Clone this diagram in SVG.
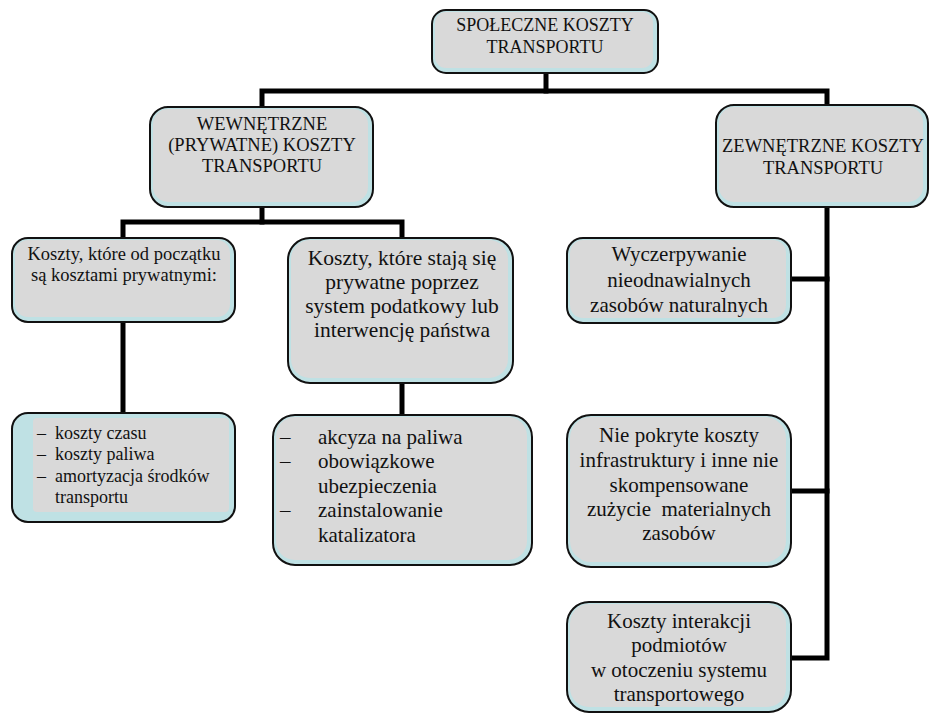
<svg xmlns="http://www.w3.org/2000/svg" width="930" height="715" viewBox="0 0 930 715">
<style>
.o{fill:#bfe1e4;stroke:#111;stroke-width:2}
.i{fill:#d9d9d9}
text{font-family:"Liberation Serif","Times New Roman",serif;fill:#111;text-anchor:middle}
.s18{font-size:18px}
.s185{font-size:18.5px}
.s21{font-size:21px}
.s215{font-size:21.5px}
.l{text-anchor:start}
.c{fill:none;stroke:#000;stroke-width:5;stroke-linecap:square;stroke-linejoin:miter}
</style>
<rect width="930" height="715" fill="#fff"/>
<g id="connectors">
<path class="c" d="M546,73 V91"/>
<path class="c" d="M262,107 V91 H827 V105"/>
<path class="c" d="M262,207 V222"/>
<path class="c" d="M123,238 V222 H402 V238"/>
<path class="c" d="M123,322 V413"/>
<path class="c" d="M402,383 V415"/>
<path class="c" d="M827,207 V658 H791"/>
<path class="c" d="M791,279 H827"/>
<path class="c" d="M791,491 H827"/>
</g>
<g id="n-spoleczne">
<rect class="o" x="432" y="10" width="226" height="63" rx="14"/>
<rect class="i" x="435" y="12" width="218" height="56" rx="11"/>
<text class="s18" x="545" y="31">SPOŁECZNE KOSZTY</text>
<text class="s18" x="545" y="53">TRANSPORTU</text>
</g>
<g id="n-wewnetrzne">
<rect class="o" x="150" y="107" width="223" height="100" rx="18"/>
<rect class="i" x="153" y="109" width="215" height="93" rx="15"/>
<text class="s185" x="262" y="130">WEWNĘTRZNE</text>
<text class="s185" x="262" y="151">(PRYWATNE) KOSZTY</text>
<text class="s185" x="262" y="172">TRANSPORTU</text>
</g>
<g id="n-zewnetrzne">
<rect class="o" x="716" y="105" width="212" height="102" rx="18"/>
<rect class="i" x="719" y="107" width="204" height="95" rx="15"/>
<text class="s185" x="823" y="152">ZEWNĘTRZNE KOSZTY</text>
<text class="s185" x="823" y="174">TRANSPORTU</text>
</g>
<g id="n-od-poczatku">
<rect class="o" x="12" y="238" width="223" height="84" rx="16"/>
<rect class="i" x="15" y="240" width="215" height="77" rx="13"/>
<text class="s185" x="124" y="260">Koszty, które od początku</text>
<text class="s185" x="124" y="281">są kosztami prywatnymi:</text>
</g>
<g id="n-staja-sie">
<rect class="o" x="288" y="238" width="225" height="145" rx="22"/>
<rect class="i" x="291" y="240" width="217" height="138" rx="19"/>
<text class="s215" x="402" y="265">Koszty, które stają się</text>
<text class="s215" x="402" y="289">prywatne poprzez</text>
<text class="s215" x="402" y="313">system podatkowy lub</text>
<text class="s215" x="402" y="337">interwencję państwa</text>
</g>
<g id="n-prywatne-lista">
<rect class="o" x="12" y="413" width="223" height="109" rx="16"/>
<rect class="i" x="33" y="418" width="196" height="94" rx="4"/>
<text class="s18 l" x="37" y="439">–</text>
<text class="s18 l" x="55" y="439">koszty czasu</text>
<text class="s18 l" x="37" y="460">–</text>
<text class="s18 l" x="55" y="460">koszty paliwa</text>
<text class="s18 l" x="37" y="482">–</text>
<text class="s18 l" x="55" y="482">amortyzacja środków</text>
<text class="s18 l" x="55" y="503">transportu</text>
</g>
<g id="n-podatki-lista">
<rect class="o" x="273" y="415" width="259" height="150" rx="22"/>
<rect class="i" x="276" y="417" width="251" height="143" rx="19"/>
<text class="s21 l" x="280" y="444">–</text>
<text class="s21 l" x="318" y="444">akcyza na paliwa</text>
<text class="s21 l" x="280" y="468">–</text>
<text class="s21 l" x="318" y="468">obowiązkowe</text>
<text class="s21 l" x="318" y="493">ubezpieczenia</text>
<text class="s21 l" x="280" y="517">–</text>
<text class="s21 l" x="318" y="517">zainstalowanie</text>
<text class="s21 l" x="318" y="542">katalizatora</text>
</g>
<g id="n-wyczerpywanie">
<rect class="o" x="567" y="238" width="224" height="85" rx="16"/>
<rect class="i" x="570" y="240" width="216" height="78" rx="13"/>
<text class="s21" x="679" y="261">Wyczerpywanie</text>
<text class="s21" x="679" y="287">nieodnawialnych</text>
<text class="s21" x="679" y="312">zasobów naturalnych</text>
</g>
<g id="n-infrastruktura">
<rect class="o" x="567" y="415" width="224" height="152" rx="24"/>
<rect class="i" x="570" y="417" width="216" height="145" rx="21"/>
<text class="s21" x="679" y="442">Nie pokryte koszty</text>
<text class="s21" x="679" y="467">infrastruktury i inne nie</text>
<text class="s21" x="679" y="492">skompensowane</text>
<text class="s21" x="679" y="516" xml:space="preserve">zużycie  materialnych</text>
<text class="s21" x="679" y="540">zasobów</text>
</g>
<g id="n-interakcje">
<rect class="o" x="567" y="602" width="224" height="110" rx="22"/>
<rect class="i" x="570" y="604" width="216" height="103" rx="19"/>
<text class="s21" x="679" y="628">Koszty interakcji</text>
<text class="s21" x="679" y="652">podmiotów</text>
<text class="s21" x="679" y="677">w otoczeniu systemu</text>
<text class="s21" x="679" y="701">transportowego</text>
</g>
</svg>
